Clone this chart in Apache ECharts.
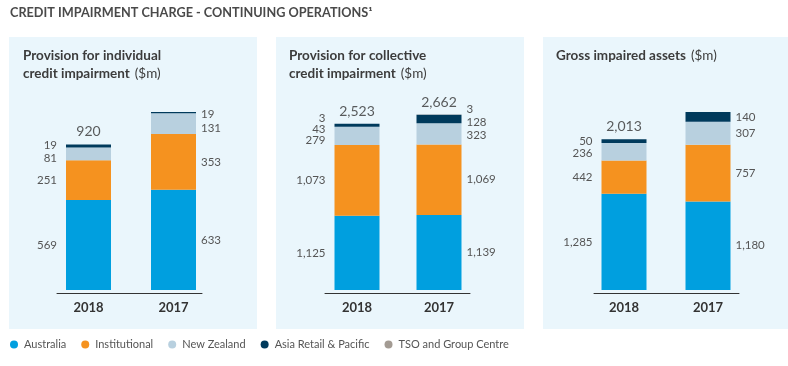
<!DOCTYPE html>
<html><head><meta charset="utf-8">
<script src="https://cdn.jsdelivr.net/npm/echarts@6/dist/echarts.min.js"></script>
<style>html,body{margin:0;padding:0;background:#fff}#c{width:788px;height:366px}</style>
</head><body><div id="c"></div>
<script>
// ---- data ----
const years = ['2018', '2017'];
const seriesNames = ['Australia', 'Institutional', 'New Zealand', 'Asia Retail & Pacific', 'TSO and Group Centre'];

const individualAustralia = [569, 633];
const individualInstitutional = [251, 353];
const individualNewZealand = [81, 131];
const individualAsiaPacific = [19, 19];
const individualTotals = [920, 1136];

const collectiveAustralia = [1125, 1139];
const collectiveInstitutional = [1073, 1069];
const collectiveNewZealand = [279, 323];
const collectiveAsiaPacific = [43, 128];
const collectiveTSO = [3, 3];
const collectiveTotals = [2523, 2662];

const grossAustralia = [1285, 1180];
const grossInstitutional = [442, 757];
const grossNewZealand = [236, 307];
const grossAsiaPacific = [50, 140];
const grossTotals = [2013, 2384];

const panelTitles = [
  ['Provision for individual', 'credit impairment'],
  ['Provision for collective', 'credit impairment'],
  ['Gross impaired assets']
];

// ---- styles ----
const F = 'Lato, "Open Sans", sans-serif';
const COLORS = {
  'Australia': '#009fdf',
  'Institutional': '#f5921f',
  'New Zealand': '#b8d0df',
  'Asia Retail & Pacific': '#003a5c',
  'TSO and Group Centre': '#a39b93'
};
const fmt = v => Number(v).toLocaleString('en-US');

const panels = [
  { bg: [9, 37, 248, 292], grid: { left: 46, width: 170 }, axis: { left: 57, width: 145 }, yMax: 1125,
    stacks: [individualAustralia, individualInstitutional, individualNewZealand, individualAsiaPacific], totals: individualTotals,
    titleX: 23, offsets: { 2: [[0, 4], [0, 5]], 3: [[0, -1], [0, 2]] } },
  { bg: [276, 37, 248, 292], grid: { left: 316, width: 164 }, axis: { left: 325, width: 145 }, yMax: 2700,
    stacks: [collectiveAustralia, collectiveInstitutional, collectiveNewZealand, collectiveAsiaPacific, collectiveTSO], totals: collectiveTotals,
    titleX: 289, offsets: { 2: [[0, 4], [0, 2]], 3: [[0, 4], [0, 3]], 4: [[0, -5], [0, -5]] } },
  { bg: [543, 37, 245, 292], grid: { left: 582, width: 168 }, axis: { left: 594, width: 145 }, yMax: 2375,
    stacks: [grossAustralia, grossInstitutional, grossNewZealand, grossAsiaPacific], totals: grossTotals,
    titleX: 556, offsets: { 2: [[0, 2], [0, 0]] } }
];

const grids = [], xAxes = [], yAxes = [], series = [], titles = [], graphics = [];

titles.push({
  text: 'CREDIT IMPAIRMENT CHARGE - CONTINUING OPERATIONS\u00b9',
  left: 10, top: 4, padding: 0,
  textStyle: { fontFamily: F, fontSize: 12.7, fontWeight: 'bold', color: '#4a4a4a', lineHeight: 18 }
});

panels.forEach((p, gi) => {
  graphics.push({ type: 'rect', z: -10, shape: { x: p.bg[0], y: p.bg[1], width: p.bg[2], height: p.bg[3] }, style: { fill: '#eaf6fc' } });
  const t = panelTitles[gi];
  const lines = t.map((s, i) => i === t.length - 1 ? '{b|' + s + '} {n|($m)}' : '{b|' + s + '}');
  titles.push({
    text: lines.join('\n'), left: p.titleX, top: 47, padding: 0,
    textStyle: {
      rich: {
        b: { fontFamily: F, fontSize: 13.5, fontWeight: 'bold', color: '#3c3c3c', lineHeight: 18 },
        n: { fontFamily: F, fontSize: 13.5, fontWeight: 'normal', color: '#3c3c3c', lineHeight: 18 }
      }
    }
  });
  grids.push({ left: p.grid.left, width: p.grid.width, top: 112, bottom: 76 });
  xAxes.push({
    gridIndex: gi, type: 'category', data: years,
    axisLine: { show: false }, axisTick: { show: false },
    axisLabel: { margin: 11, fontFamily: F, fontSize: 13, fontWeight: 'bold', color: '#333' }
  });
  yAxes.push({ gridIndex: gi, type: 'value', min: 0, max: p.yMax, show: false, splitLine: { show: false } });

  p.stacks.forEach((vals, si) => {
    const name = seriesNames[si];
    const offs = p.offsets[si];
    series.push({
      type: 'bar', name, stack: 'p' + gi, xAxisIndex: gi, yAxisIndex: gi, barWidth: 45,
      itemStyle: { color: COLORS[name] },
      label: { show: true, fontFamily: F, fontSize: 11.5, color: '#555', formatter: q => fmt(q.value) },
      data: vals.map((v, i) => ({
        value: v,
        label: { position: i === 0 ? 'left' : 'right', distance: i === 0 ? 9 : 5, offset: offs ? offs[i] : [0, 0] }
      }))
    });
  });
  series.push({
    type: 'scatter', name: 'total' + gi, xAxisIndex: gi, yAxisIndex: gi, symbolSize: 1,
    itemStyle: { color: 'rgba(0,0,0,0)' }, silent: true,
    label: { show: true, position: 'top', distance: 5, fontFamily: F, fontSize: 14, color: '#333', formatter: q => fmt(q.value) },
    data: p.totals
  });
});

// baseline axes (separate grids so the axis line is shorter than the bar grid)
panels.forEach((p, k) => {
  const gi = panels.length + k;
  grids.push({ left: p.axis.left, width: p.axis.width, top: 250, bottom: 73 });
  xAxes.push({ gridIndex: gi, type: 'category', data: [''], axisLine: { show: true, lineStyle: { color: '#333', width: 1 } }, axisTick: { show: false }, axisLabel: { show: false } });
  yAxes.push({ gridIndex: gi, type: 'value', show: false, min: 0, max: 1, splitLine: { show: false } });
});

const chart = echarts.init(document.getElementById('c'));
chart.setOption({
  animation: false,
  backgroundColor: '#fff',
  title: titles,
  graphic: graphics,
  legend: {
    data: seriesNames, left: 10, top: 339, padding: 0, icon: 'circle', itemWidth: 10, itemHeight: 8, itemGap: 15,
    textStyle: { fontFamily: F, fontSize: 11, color: '#555' }, selectedMode: false
  },
  grid: grids, xAxis: xAxes, yAxis: yAxes, series
});
</script></body></html>
